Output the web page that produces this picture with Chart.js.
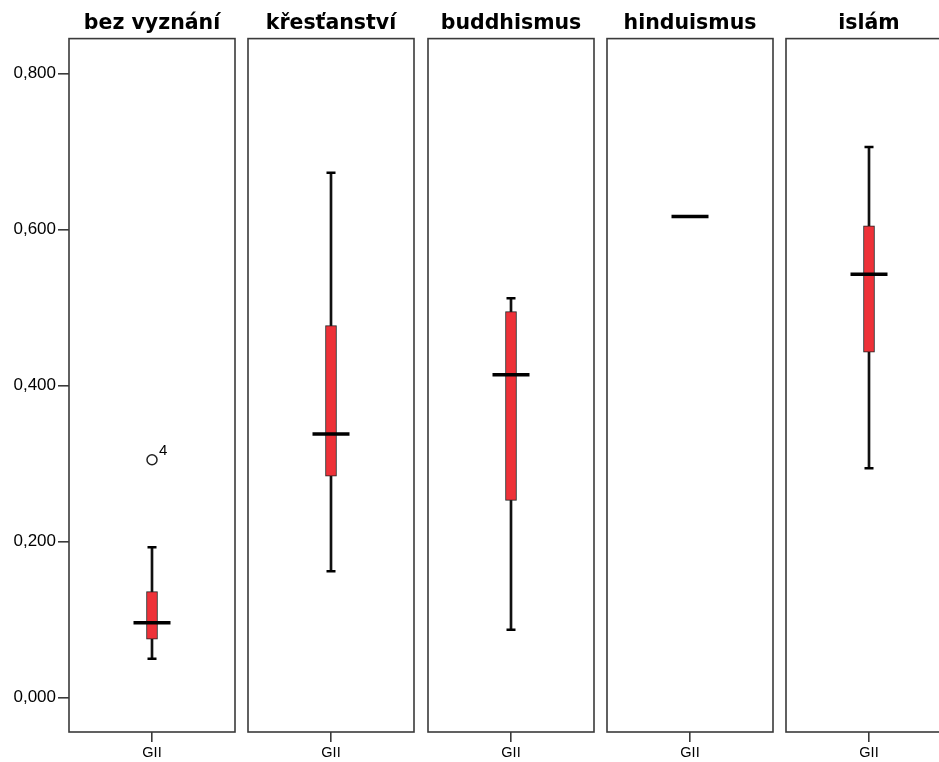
<!DOCTYPE html>
<html>
<head>
<meta charset="utf-8">
<script src="https://cdn.jsdelivr.net/npm/chart.js@4/dist/chart.umd.min.js"></script>
<style>
  html, body { margin: 0; padding: 0; background: #fff; overflow: hidden; }
  .panel { position: absolute; top: 0; }
</style>
</head>
<body>
<div class="panel" style="left:0px"><canvas id="c0" width="237" height="762"></canvas></div>
<div class="panel" style="left:247px"><canvas id="c1" width="169" height="762"></canvas></div>
<div class="panel" style="left:427px"><canvas id="c2" width="169" height="762"></canvas></div>
<div class="panel" style="left:606px"><canvas id="c3" width="169" height="762"></canvas></div>
<div class="panel" style="left:785px"><canvas id="c4" width="169" height="762"></canvas></div>
<script>
// data
const religions = ["bez vyznání", "křesťanství", "buddhismus", "hinduismus", "islám"];
const variableLabel = ["GII"];
const whiskerLow = [0.050, 0.162, 0.087, null, 0.294];
const q1 = [0.075, 0.284, 0.253, null, 0.443];
const median = [0.096, 0.338, 0.414, 0.617, 0.543];
const q3 = [0.136, 0.477, 0.495, null, 0.605];
const whiskerHigh = [0.193, 0.673, 0.512, null, 0.706];
const outlierValues = [0.305, null, null, null, null];
const outlierLabels = ["4", null, null, null, null];
const yTicks = [0, 0.2, 0.4, 0.6, 0.8];
const yMin = -0.044;
const yMax = 0.845;

const frameColor = "#3a3a3a";
const boxRed = "#ee3138";

// draws the panel frame and the outlier case number
const panelPlugin = {
  id: "panel",
  afterDatasetsDraw(chart) {
    const ctx = chart.ctx;
    const a = chart.chartArea;
    ctx.save();
    ctx.strokeStyle = frameColor;
    ctx.lineWidth = 1.6;
    ctx.strokeRect(a.left, a.top, a.right - a.left, a.bottom - a.top);
    const idx = chart.options.plugins.panel.index;
    const ds = chart.data.datasets.findIndex(d => d.label === "outlier");
    if (ds >= 0 && outlierLabels[idx]) {
      const pt = chart.getDatasetMeta(ds).data[0];
      if (pt) {
        ctx.fillStyle = "#000";
        ctx.font = "15px 'Liberation Sans', Arial, sans-serif";
        ctx.textAlign = "left";
        ctx.textBaseline = "bottom";
        ctx.fillText(outlierLabels[idx], pt.x + 7, pt.y - 1);
      }
    }
    ctx.restore();
  }
};

function makePanel(i) {
  const datasets = [];
  if (whiskerLow[i] !== null) {
    datasets.push({
      type: "bar",
      label: "whisker",
      data: [[whiskerLow[i], whiskerHigh[i]]],
      backgroundColor: "#111",
      borderWidth: 0,
      barThickness: 2,
      grouped: false,
      order: 5
    });
    datasets.push({
      type: "bar",
      label: "box",
      data: [[q1[i], q3[i]]],
      backgroundColor: boxRed,
      borderColor: "#222",
      borderWidth: 1,
      borderSkipped: false,
      barThickness: 11,
      grouped: false,
      order: 4
    });
    datasets.push({
      type: "line",
      label: "caps",
      data: [whiskerLow[i]],
      showLine: false,
      pointStyle: "line",
      pointRadius: 4.5,
      pointBorderWidth: 2.5,
      pointBorderColor: "#000",
      order: 3
    });
    datasets.push({
      type: "line",
      label: "caps2",
      data: [whiskerHigh[i]],
      showLine: false,
      pointStyle: "line",
      pointRadius: 4.5,
      pointBorderWidth: 2.5,
      pointBorderColor: "#000",
      order: 3
    });
  }
  datasets.push({
    type: "line",
    label: "median",
    data: [median[i]],
    showLine: false,
    pointStyle: "line",
    pointRadius: 18.5,
    pointBorderWidth: 3.5,
    pointBorderColor: "#000",
    order: 1
  });
  if (outlierValues[i] !== null) {
    datasets.push({
      type: "line",
      label: "outlier",
      data: [outlierValues[i]],
      showLine: false,
      pointStyle: "circle",
      pointRadius: 5,
      pointBorderWidth: 1.5,
      pointBorderColor: "#222",
      pointBackgroundColor: "#fff",
      order: 0
    });
  }

  const first = i === 0;
  new Chart(document.getElementById("c" + i), {
    type: "bar",
    data: { labels: variableLabel, datasets: datasets },
    options: {
      responsive: false,
      animation: false,
      devicePixelRatio: 1,
      layout: { autoPadding: false, padding: { left: first ? 0 : 1, right: 2, top: 0, bottom: 0 } },
      plugins: {
        legend: { display: false },
        tooltip: { enabled: false },
        panel: { index: i },
        title: {
          display: true,
          fullSize: false,
          text: religions[i],
          color: "#000",
          font: { family: "'DejaVu Sans', Verdana, sans-serif", size: 20.5, weight: "bold" },
          padding: { top: 11, bottom: 3 }
        }
      },
      scales: {
        x: {
          offset: true,
          grid: { drawOnChartArea: false, offset: false, tickLength: 10, color: frameColor, lineWidth: 1.6 },
          border: { display: false },
          ticks: {
            color: "#000",
            padding: 2,
            font: { family: "'Liberation Sans', Arial, sans-serif", size: 14.5 }
          },
          afterFit(scale) { scale.height = 30; }
        },
        y: {
          display: first,
          min: yMin,
          max: yMax,
          grid: { drawOnChartArea: false, tickLength: 11, color: frameColor, lineWidth: 1.6 },
          border: { display: false },
          ticks: {
            color: "#000",
            padding: 2,
            font: { family: "'Liberation Sans', Arial, sans-serif", size: 17 },
            callback: v => v.toFixed(3).replace(".", ",")
          },
          afterBuildTicks(scale) { scale.ticks = yTicks.map(v => ({ value: v })); },
          afterFit(scale) { if (first) scale.width = 69; }
        }
      }
    },
    plugins: [panelPlugin]
  });
}

religions.forEach((r, i) => makePanel(i));
</script>
</body>
</html>
